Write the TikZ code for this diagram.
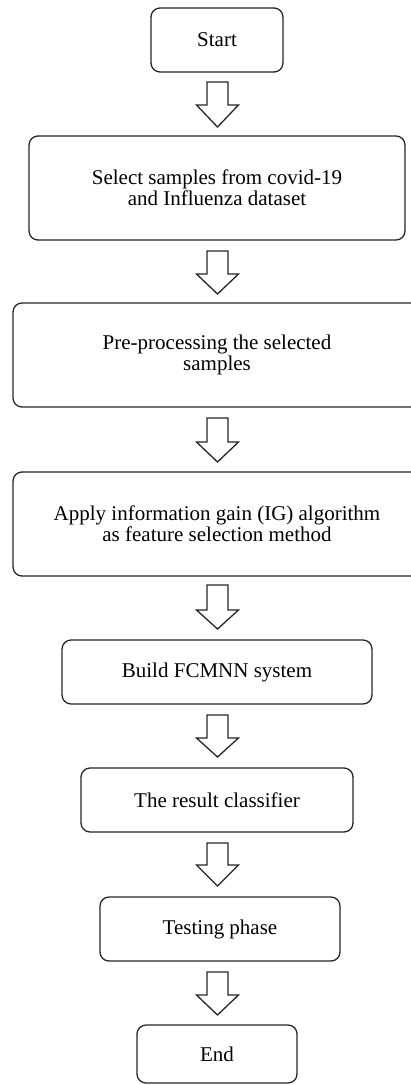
\documentclass[tikz,border=0pt]{standalone}
\usepackage{fontspec}
\setmainfont{Liberation Serif}
\tikzset{
  box/.style={draw=black!85, line width=1.3pt, rounded corners=9pt, inner sep=0pt,
    align=center, font=\fontsize{21}{21}\selectfont},
  barrow/.style={draw=black!85, line width=1.3pt, fill=white, line join=miter}
}
% block arrow: shaft top y, head base y, tip y
\newcommand{\blockarrow}[3]{%
  \draw[barrow] (207,#1) -- (228,#1) -- (228,#2) -- (238.5,#2) -- (217.5,#3)
    -- (196.5,#2) -- (207,#2) -- cycle;}
\begin{document}
\begin{tikzpicture}[x=1pt,y=-1pt]
\useasboundingbox (0,0) rectangle (411,1085);
\clip (0,0) rectangle (411,1085);
\node[box, minimum width=132pt, minimum height=64pt] (start) at (217,40) {Start};
\node[box, minimum width=376pt, minimum height=104pt] (select) at (217,188)
  {Select samples from covid-19\\and Influenza dataset};
\node[box, minimum width=408pt, minimum height=104pt] (pre) at (217,355)
  {Pre-processing the selected\\samples};
\node[box, minimum width=408pt, minimum height=104pt] (ig) at (217,524)
  {Apply information gain (IG) algorithm\\as feature selection method};
\node[box, minimum width=310pt, minimum height=64pt] (build) at (217,672)
  {Build FCMNN system};
\node[box, minimum width=272pt, minimum height=64pt] (result) at (217,800)
  {The result classifier};
\node[box, minimum width=240pt, minimum height=64pt] (test) at (220,929)
  {Testing phase};
\node[box, minimum width=160pt, minimum height=58pt] (end) at (217,1054)
  {End};
\blockarrow{82}{105}{127}
\blockarrow{251}{274}{294}
\blockarrow{418}{442}{462}
\blockarrow{585}{610}{629}
\blockarrow{715}{738}{757}
\blockarrow{843}{865}{886}
\blockarrow{972}{995}{1015}
\end{tikzpicture}
\end{document}
